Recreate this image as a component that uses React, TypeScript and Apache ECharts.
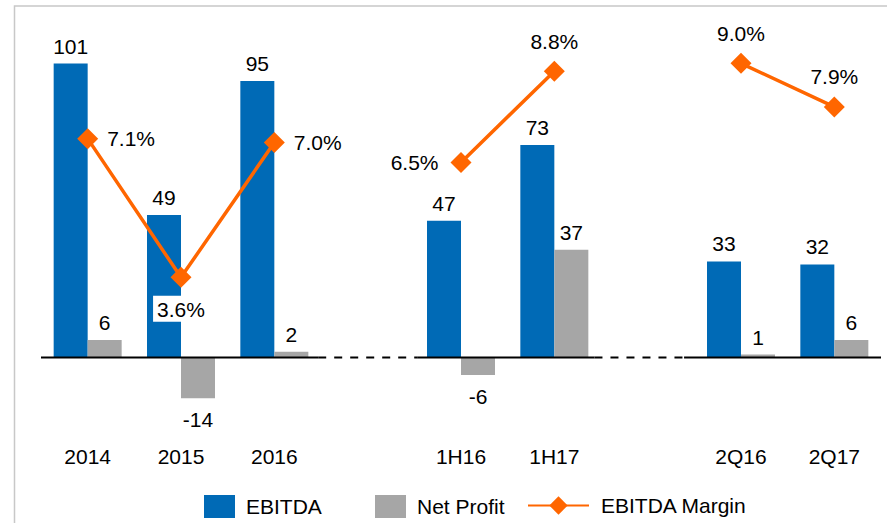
import React, { useEffect, useRef } from "react";
import * as echarts from "echarts";

const categories = ["2014", "2015", "2016", " ", "1H16", "1H17", "  ", "2Q16", "2Q17"];
const ebitda: (number | null)[] = [101, 49, 95, null, 47, 73, null, 33, 32];
const netProfit: (number | null)[] = [6, -14, 2, null, -6, 37, null, 1, 6];
const ebitdaMargin: (number | null)[] = [7.1, 3.6, 7.0, null, 6.5, 8.8, null, 9.0, 7.9];

const FONT = "'Liberation Sans', Arial, sans-serif";
const BLUE = "#006AB6";
const GRAY = "#A6A6A6";
const ORANGE = "#FF6600";

// label placement for the margin points
const marginLabelPos = ["right", "bottom", "right", null, "left", "top", null, "top", "top"];

// baseline segments in category units (value axis from -0.5 to 8.5)
const solidSegments = [[-0.5, 2.47], [3.53, 5.43], [6.39, 8.5]];
const dashedSegments = [[2.47, 3.53], [5.43, 6.39]];

export default function App() {
  const ref = useRef<HTMLDivElement>(null);
  useEffect(() => {
    if (!ref.current) return;
    const chart = echarts.init(ref.current, null, { renderer: "svg" });

    const gridTop = 30;
    const gridHeight = 390;
    const zeroY = 357.5;
    const pxPerUnit = 2.91;
    const pxPerPct = 39.63;
    const bottomY = gridTop + gridHeight;
    const yMin = -(bottomY - zeroY) / pxPerUnit;
    const yMax = (zeroY - gridTop) / pxPerUnit;
    const y2Max = gridHeight / pxPerPct;

    const baseSeries: any[] = [];
    solidSegments.forEach((s) => {
      baseSeries.push({
        type: "line",
        xAxisIndex: 1,
        yAxisIndex: 0,
        data: [[s[0], 0], [s[1], 0]],
        symbol: "none",
        silent: true,
        z: 3,
        lineStyle: { color: "#000", width: 2 },
      });
    });
    dashedSegments.forEach((s) => {
      baseSeries.push({
        type: "line",
        xAxisIndex: 1,
        yAxisIndex: 0,
        data: [[s[0], 0], [s[1], 0]],
        symbol: "none",
        silent: true,
        z: 3,
        lineStyle: { color: "#000", width: 2, type: [8, 8] },
      });
    });

    const labelBase = { show: true, fontSize: 21, color: "#000", fontFamily: FONT };

    const option: any = {
      animation: false,
      textStyle: { fontFamily: FONT },
      graphic: [
        {
          type: "rect",
          shape: { x: 14.5, y: 6, width: 1000, height: 1000 },
          style: { fill: "none", stroke: "#C8C8C8", lineWidth: 1.5 },
          silent: true,
        },
      ],
      grid: { left: 41, right: 6, top: gridTop, height: gridHeight },
      xAxis: [
        {
          type: "category",
          data: categories,
          position: "bottom",
          axisLine: { show: false, onZero: false },
          axisTick: { show: false },
          axisLabel: { fontSize: 21, color: "#000", margin: 26, fontFamily: FONT },
          splitLine: { show: false },
        },
        {
          type: "value",
          min: -0.5,
          max: 8.5,
          show: false,
        },
      ],
      yAxis: [
        { type: "value", min: yMin, max: yMax, show: false, splitLine: { show: false } },
        { type: "value", min: 0, max: y2Max, show: false, splitLine: { show: false } },
      ],
      legend: [
        {
          data: [{ name: "EBITDA", icon: "rect" }],
          left: 204,
          top: 495,
          padding: 0,
          itemWidth: 31,
          itemHeight: 23,
          textStyle: { fontSize: 21, color: "#000", fontFamily: FONT, padding: [0, 0, 0, 6] },
        },
        {
          data: [{ name: "Net Profit", icon: "rect" }],
          left: 375,
          top: 495,
          padding: 0,
          itemWidth: 31,
          itemHeight: 23,
          textStyle: { fontSize: 21, color: "#000", fontFamily: FONT, padding: [0, 0, 0, 6] },
        },
        {
          data: ["EBITDA Margin"],
          left: 527,
          top: 495,
          padding: 0,
          itemWidth: 61,
          itemHeight: 23,
          textStyle: { fontSize: 21, color: "#000", fontFamily: FONT, padding: [0, 0, 0, 7] },
        },
      ],
      series: [
        {
          name: "EBITDA",
          type: "bar",
          xAxisIndex: 0,
          yAxisIndex: 0,
          barWidth: 34,
          barGap: "0%",
          itemStyle: { color: BLUE },
          label: { ...labelBase, position: "top", distance: 7 },
          data: ebitda.map((v) => (v == null ? "-" : v)),
        },
        {
          name: "Net Profit",
          type: "bar",
          xAxisIndex: 0,
          yAxisIndex: 0,
          barWidth: 34,
          barGap: "0%",
          itemStyle: { color: GRAY },
          label: { ...labelBase, position: "top", distance: 7 },
          data: netProfit.map((v) =>
            v == null
              ? "-"
              : {
                  value: v,
                  label: { position: v < 0 ? "bottom" : "top", distance: v < 0 ? 11 : 7 },
                }
          ),
        },
        ...baseSeries,
        {
          name: "EBITDA Margin",
          type: "line",
          xAxisIndex: 0,
          yAxisIndex: 1,
          z: 5,
          symbol: "diamond",
          symbolSize: 21,
          connectNulls: false,
          lineStyle: { color: ORANGE, width: 3.5 },
          itemStyle: { color: ORANGE },
          label: {
            ...labelBase,
            formatter: (p: any) => Number(p.value).toFixed(1) + "%",
          },
          data: ebitdaMargin.map((v, i) => {
            if (v == null) return "-";
            const pos = marginLabelPos[i];
            const lab: any = { position: pos, distance: pos === "left" ? 12 : pos === "bottom" ? 8 : 9 };
            if (pos === "bottom") {
              lab.backgroundColor = "#fff";
              lab.padding = [3, 4, 2, 4];
            }
            return { value: v, label: lab };
          }),
        },
      ],
    };
    chart.setOption(option);
    return () => chart.dispose();
  }, []);

  return (
    <div
      ref={ref}
      style={{ position: "absolute", left: 0, top: 0, width: 887, height: 523, background: "#fff" }}
    />
  );
}
